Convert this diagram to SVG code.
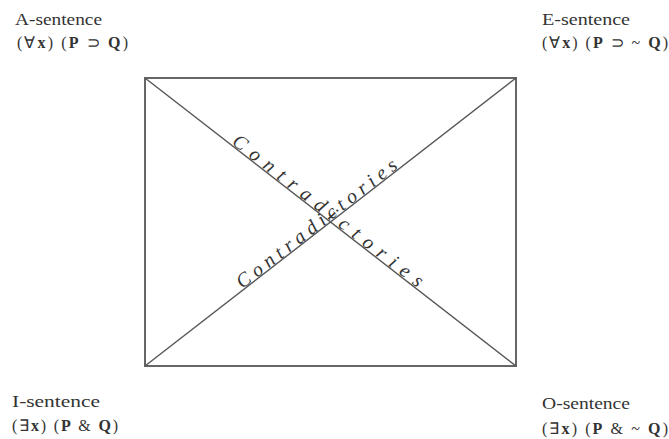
<svg xmlns="http://www.w3.org/2000/svg" width="669" height="439" viewBox="0 0 669 439">
<style>
.lbl{font-family:"Liberation Serif","Times New Roman",serif;font-size:16px;fill:#333}
.b{font-weight:bold}
.diag{font-family:"Liberation Serif","Times New Roman",serif;font-style:italic;font-size:20px;fill:#333}
.edge{stroke:#555;stroke-width:1.4;fill:none}
.box{stroke:#666;stroke-width:2;fill:none}
</style>
<rect width="669" height="439" fill="#fff"/>
<g id="square">
<rect class="box" x="145" y="78" width="371" height="288"/>
</g>
<g id="connectors">
<line class="edge" x1="145" y1="78" x2="516" y2="366"/>
<line class="edge" x1="145" y1="366" x2="516" y2="78"/>
<g transform="translate(145,78) rotate(37.82)">
<text class="diag" x="108" y="-1" textLength="236" lengthAdjust="spacing">Contradictories</text>
</g>
<g transform="translate(145,366) rotate(-37.82)">
<text class="diag" x="124" y="-1" textLength="198" lengthAdjust="spacing">Contradictories</text>
</g>
</g>
<g id="A">
<text class="lbl" x="15" y="25" textLength="87" lengthAdjust="spacingAndGlyphs">A-sentence</text>
<text class="lbl" x="17" y="48" textLength="111" lengthAdjust="spacing">(∀<tspan class="b">x</tspan>) (<tspan class="b">P</tspan> ⊃ <tspan class="b">Q</tspan>)</text>
</g>
<g id="E">
<text class="lbl" x="542" y="25" textLength="88" lengthAdjust="spacingAndGlyphs">E-sentence</text>
<text class="lbl" x="542" y="48" textLength="126" lengthAdjust="spacing">(∀<tspan class="b">x</tspan>) (<tspan class="b">P</tspan> ⊃ ~ <tspan class="b">Q</tspan>)</text>
</g>
<g id="I">
<text class="lbl" x="12" y="407" textLength="88" lengthAdjust="spacingAndGlyphs">I-sentence</text>
<text class="lbl" x="12" y="431" textLength="106" lengthAdjust="spacing">(∃<tspan class="b">x</tspan>) (<tspan class="b">P</tspan> &amp; <tspan class="b">Q</tspan>)</text>
</g>
<g id="O">
<text class="lbl" x="542" y="409" textLength="88" lengthAdjust="spacingAndGlyphs">O-sentence</text>
<text class="lbl" x="542" y="434" textLength="126" lengthAdjust="spacing">(∃<tspan class="b">x</tspan>) (<tspan class="b">P</tspan> &amp; ~ <tspan class="b">Q</tspan>)</text>
</g>
</svg>
